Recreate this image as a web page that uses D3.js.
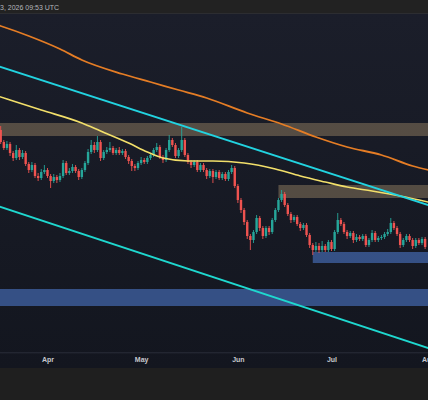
<!DOCTYPE html>
<html><head><meta charset="utf-8">
<script src="https://cdn.jsdelivr.net/npm/d3@7/dist/d3.min.js"></script>
<style>html,body{margin:0;padding:0;background:#1e1e1e;overflow:hidden}svg{display:block}</style>
</head><body>
<script>
// ---------- DATA ----------
const firstDay = "2026-03-15";
const openP = [1231,1225,1223,1211,1205,1209,1200,1195,1203,1196,
1200,1189,1183,1188,1177,1175,1181,1183,1177,1172,
1176,1173,1177,1190,1180,1182,1186,1182,1176,1183,
1190,1201,1208,1203,1211,1195,1201,1203,1205,1200,
1203,1200,1202,1196,1192,1187,1185,1190,1193,1191,
1195,1198,1203,1206,1196,1193,1203,1213,1208,1197,
1203,1213,1198,1191,1188,1191,1183,1188,1183,1177,
1182,1176,1181,1175,1179,1174,1181,1185,1167,1153,
1143,1131,1117,1113,1121,1135,1125,1117,1125,1121,
1133,1143,1153,1159,1148,1139,1133,1136,1129,1125,
1128,1118,1108,1103,1107,1103,1107,1103,1111,1104,
1121,1133,1129,1121,1117,1120,1113,1116,1114,1117,
1108,1113,1120,1113,1115,1116,1119,1121,1130,1125,
1119,1108,1113,1117,1113,1107,1113,1110,1114];
const closeP = [1225,1221,1211,1205,1209,1200,1195,1203,1196,1200,
1189,1183,1188,1177,1175,1181,1183,1177,1172,1176,
1173,1177,1190,1180,1182,1186,1182,1176,1183,1190,
1201,1208,1203,1211,1195,1201,1203,1205,1200,1203,
1200,1202,1196,1192,1187,1185,1190,1193,1191,1195,
1198,1203,1206,1196,1193,1203,1213,1208,1197,1203,
1213,1198,1191,1188,1191,1183,1188,1183,1177,1182,
1176,1181,1175,1179,1174,1181,1185,1167,1153,1143,
1131,1117,1113,1121,1135,1125,1117,1125,1121,1133,
1143,1153,1159,1148,1139,1133,1136,1129,1125,1128,
1118,1108,1103,1107,1103,1107,1103,1111,1104,1121,
1133,1129,1121,1117,1120,1113,1116,1114,1117,1108,
1113,1120,1113,1115,1116,1119,1121,1130,1125,1119,
1108,1113,1117,1113,1107,1113,1110,1114,1106];
const highP = [1234,1228,1227,1213,1212,1211,1202,1208,1205,1203,
1202,1191,1191,1190,1180,1184,1188,1185,1179,1179,
1178,1180,1193,1192,1185,1189,1188,1184,1185,1192,
1204,1213,1211,1217,1213,1203,1206,1211,1207,1205,
1206,1204,1204,1198,1194,1189,1192,1196,1195,1197,
1200,1205,1210,1208,1198,1205,1218,1215,1210,1205,
1226,1215,1200,1193,1193,1193,1190,1190,1185,1184,
1184,1183,1183,1181,1181,1183,1188,1187,1169,1155,
1145,1133,1119,1123,1138,1137,1127,1127,1127,1135,
1145,1155,1163,1161,1150,1141,1138,1138,1131,1130,
1130,1120,1110,1111,1110,1112,1109,1113,1113,1123,
1140,1135,1131,1123,1122,1122,1119,1118,1119,1119,
1115,1123,1122,1117,1118,1121,1124,1135,1132,1127,
1121,1115,1119,1119,1115,1115,1115,1116,1116];
const lowP = [1223,1219,1209,1203,1203,1197,1192,1193,1193,1194,
1187,1180,1181,1175,1172,1173,1179,1175,1165,1170,
1170,1171,1175,1178,1178,1180,1180,1173,1174,1181,
1188,1199,1200,1201,1192,1193,1199,1201,1198,1198,
1198,1198,1194,1189,1182,1182,1183,1188,1189,1189,
1193,1196,1201,1194,1190,1191,1201,1206,1195,1195,
1201,1196,1189,1185,1186,1181,1181,1181,1174,1175,
1170,1174,1173,1173,1172,1172,1179,1165,1150,1140,
1128,1114,1103,1110,1119,1122,1114,1115,1118,1119,
1131,1141,1151,1146,1137,1130,1131,1127,1122,1123,
1116,1105,1098,1101,1100,1101,1101,1101,1102,1102,
1119,1127,1119,1114,1115,1110,1111,1112,1112,1106,
1106,1111,1111,1111,1113,1114,1117,1119,1123,1117,
1105,1106,1111,1111,1104,1105,1108,1108,1104];

// moving averages (date, value)
const ma200Dates = ["2026-03-15","2026-03-17","2026-03-26","2026-04-05","2026-04-12","2026-04-25","2026-05-04","2026-05-13","2026-05-22","2026-06-04","2026-06-15","2026-06-26","2026-07-06","2026-07-17","2026-07-27","2026-08-01"];
const ma200Vals  = [1329,1327,1317,1304,1293,1279,1271,1263,1255,1240,1229,1216,1206,1198,1187,1183];
const ma100Dates = ["2026-03-15","2026-03-20","2026-03-30","2026-04-12","2026-04-18","2026-04-27","2026-05-03","2026-05-08","2026-05-16","2026-05-24","2026-06-03","2026-06-13","2026-06-21","2026-06-29","2026-07-06","2026-07-14","2026-07-23","2026-08-01"];
const ma100Vals  = [1258,1253,1243,1230,1222,1210,1201,1195,1192,1192,1190,1184,1177,1171,1166,1162,1157,1151];

// channel trendlines
const trendDates = ["2026-03-17","2026-08-01"];
const upperTrend = [1286,1148];
const lowerTrend = [1146,1005];

// zones
const zoneStart  = ["2026-03-01","2026-06-14","2026-06-25","2026-03-01"];
const zoneTop    = [1230,1168,1101,1064];
const zoneBottom = [1217,1155,1090,1047];
const zoneKind   = ["supply","supply","demand","demand"];

const tickDates  = ["2026-04-01","2026-05-01","2026-06-01","2026-07-01","2026-08-01"];
const headerText = "3, 2026 09:53 UTC";

// ---------- CHART ----------
const W = 428, H = 400;
const plotTop = 14, plotBottom = 353;
const parse = d3.utcParse("%Y-%m-%d");

const x = d3.scaleUtc()
  .domain([parse("2026-04-01"), parse("2026-07-01")])
  .range([47.5, 331.5]);
const y = d3.scaleLinear().domain([1000, 1339]).range([353, 14]);

const svg = d3.select("body").append("svg").attr("width", W).attr("height", H);
const defs = svg.append("defs");
const grad = defs.append("linearGradient").attr("id","bg").attr("x1",0).attr("x2",0).attr("y1",0).attr("y2",1);
grad.append("stop").attr("offset","0%").attr("stop-color","#1b1e2a");
grad.append("stop").attr("offset","100%").attr("stop-color","#13161f");
defs.append("clipPath").attr("id","clip").append("rect")
  .attr("x",0).attr("y",plotTop).attr("width",W).attr("height",plotBottom-plotTop);

// backgrounds
svg.append("rect").attr("x",0).attr("y",0).attr("width",W).attr("height",H).attr("fill","#1f1f1f");
svg.append("rect").attr("x",0).attr("y",0).attr("width",W).attr("height",13).attr("fill","#222222");
svg.append("rect").attr("x",0).attr("y",13).attr("width",W).attr("height",1.5).attr("fill","#2c2d31");
svg.append("rect").attr("x",0).attr("y",plotTop).attr("width",W).attr("height",368-plotTop).attr("fill","url(#bg)");

svg.append("text").attr("x",0).attr("y",10.2)
  .attr("font-family","Liberation Sans, Arial, sans-serif").attr("font-size",7)
  .attr("fill","#b4b6bb").text(headerText);

const g = svg.append("g").attr("clip-path","url(#clip)");

// zones
const zones = zoneTop.map((t,i)=>({start:parse(zoneStart[i]), top:t, bottom:zoneBottom[i], kind:zoneKind[i]}));
g.selectAll("rect.zone").data(zones).enter().append("rect")
  .attr("class","zone")
  .attr("x", d => Math.max(-2, x(d.start)))
  .attr("y", d => y(d.top))
  .attr("width", d => W + 4 - Math.max(-2, x(d.start)))
  .attr("height", d => y(d.bottom) - y(d.top))
  .attr("fill", d => d.kind === "supply" ? "rgba(160,138,105,0.45)" : "rgba(66,103,172,0.72)");

// candles
const days = openP.map((o,i)=>({
  date: d3.utcDay.offset(parse(firstDay), i),
  o, c: closeP[i], h: highP[i], l: lowP[i]
}));
const up = "#26a69a", dn = "#ef5350";
const bodyW = 2.4;
const cg = g.append("g");
cg.selectAll("line.wick").data(days).enter().append("line")
  .attr("x1", d=>x(d.date)).attr("x2", d=>x(d.date))
  .attr("y1", d=>y(d.h)).attr("y2", d=>y(d.l))
  .attr("stroke", d=> d.c >= d.o ? up : dn).attr("stroke-width",0.9);
cg.selectAll("rect.body").data(days).enter().append("rect")
  .attr("x", d=>x(d.date)-bodyW/2)
  .attr("y", d=>y(Math.max(d.o,d.c)))
  .attr("width", bodyW)
  .attr("height", d=>Math.max(1, Math.abs(y(d.o)-y(d.c))))
  .attr("fill", d=> d.c >= d.o ? up : dn);

// moving averages
const line = d3.line().x(d=>x(d[0])).y(d=>y(d[1])).curve(d3.curveMonotoneX);
g.append("path").datum(ma200Dates.map((d,i)=>[parse(d), ma200Vals[i]]))
  .attr("d", line).attr("fill","none").attr("stroke","#e57d25").attr("stroke-width",1.8);
g.append("path").datum(ma100Dates.map((d,i)=>[parse(d), ma100Vals[i]]))
  .attr("d", line).attr("fill","none").attr("stroke","#f2df6a").attr("stroke-width",1.6);

// trendlines (extended across the plot)
function extend(vals){
  const t0 = parse(trendDates[0]), t1 = parse(trendDates[1]);
  const s = d3.scaleLinear().domain([t0, t1]).range(vals);
  const a = x.invert(-10), b = x.invert(W+10);
  return [[a, s(a)], [b, s(b)]];
}
const straight = d3.line().x(d=>x(d[0])).y(d=>y(d[1]));
g.append("path").datum(extend(upperTrend)).attr("d", straight)
  .attr("fill","none").attr("stroke","#22d3e0").attr("stroke-width",1.9);
g.append("path").datum(extend(lowerTrend)).attr("d", straight)
  .attr("fill","none").attr("stroke","#1fd8cf").attr("stroke-width",1.9);

// x axis
svg.append("line").attr("x1",0).attr("x2",W).attr("y1",352.8).attr("y2",352.8)
  .attr("stroke","#2a2e39").attr("stroke-width",1);
const axis = d3.axisBottom(x).tickValues(tickDates.map(parse))
  .tickFormat(d3.utcFormat("%b")).tickSize(0).tickPadding(0);
const ax = svg.append("g").attr("transform","translate(0,358)").call(axis);
ax.select(".domain").remove();
ax.selectAll("text").attr("font-family","Liberation Sans, Arial, sans-serif")
  .attr("font-size",7).attr("font-weight","bold").attr("fill","#c6c8cd").attr("dy","0.6em");
</script>
</body></html>
